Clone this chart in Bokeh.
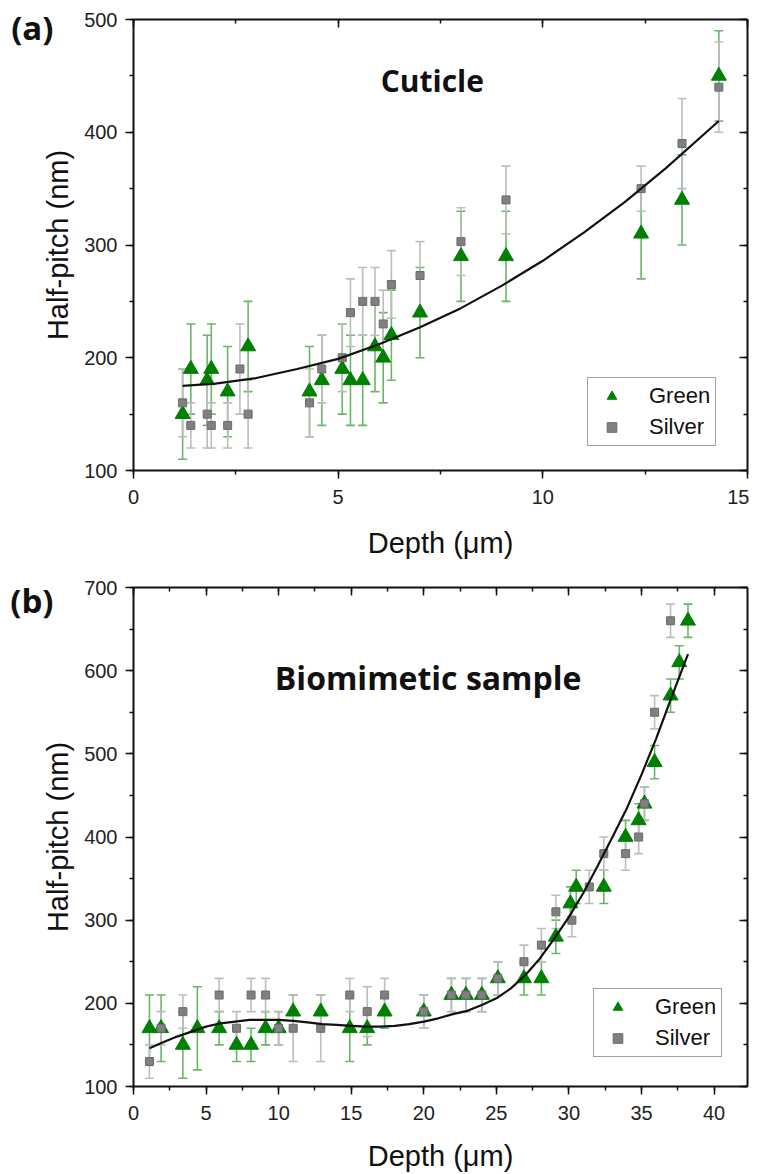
from bokeh.plotting import figure
from bokeh.models import (ColumnDataSource, Whisker, TeeHead, LinearAxis, Label,
                          Legend, LegendItem, Range1d, SingleIntervalTicker, FixedTicker,
                          CustomJSTickFormatter)
from bokeh.layouts import column
from bokeh.embed import file_html
from bokeh.resources import INLINE

# ---------------- Panel (a): Cuticle ----------------
green_a_x = [1.2, 1.4, 1.8, 1.9, 2.3, 2.8, 4.3, 4.6, 5.1, 5.3, 5.6, 5.9, 6.1, 6.3, 7.0, 8.0, 9.1, 12.4, 13.4, 14.3]
green_a_y = [150, 190, 180, 190, 170, 210, 170, 180, 190, 180, 180, 210, 200, 220, 240, 290, 290, 310, 340, 450]
green_a_err = [40, 40, 40, 40, 40, 40, 40, 40, 40, 40, 40, 40, 40, 40, 40, 40, 40, 40, 40, 40]

silver_a_x = [1.2, 1.4, 1.8, 1.9, 2.3, 2.6, 2.8, 4.3, 4.6, 5.1, 5.3, 5.6, 5.9, 6.1, 6.3, 7.0, 8.0, 9.1, 12.4, 13.4, 14.3]
silver_a_y = [160, 140, 150, 140, 140, 190, 150, 160, 190, 200, 240, 250, 250, 230, 265, 273, 303, 340, 350, 390, 440]
silver_a_err = [30, 20, 30, 20, 20, 40, 30, 30, 30, 30, 30, 30, 30, 30, 30, 30, 30, 30, 20, 40, 40]

fit_a_x = [1.2, 2, 3, 4, 5, 6, 7, 8, 9, 10, 11, 12, 13, 14.3]
fit_a_y = [175, 177, 182, 190, 199, 212, 227, 244, 264, 286, 311, 338, 368, 410]

# ---------------- Panel (b): Biomimetic sample ----------------
green_b_x = [1.1, 1.9, 3.4, 4.4, 5.9, 7.1, 8.1, 9.1, 10.0, 11.0, 12.9, 14.9, 16.1, 17.3, 20.0,
             21.9, 22.9, 24.0, 25.1, 26.9, 28.1, 29.1, 30.1, 30.5, 32.4, 33.9, 34.8, 35.2, 35.9,
             37.0, 37.6, 38.2]
green_b_y = [170, 170, 150, 170, 170, 150, 150, 170, 170, 190, 190, 170, 170, 190, 190,
             210, 210, 210, 230, 230, 230, 280, 320, 340, 340, 400, 420, 440, 490,
             570, 610, 660]
green_b_err = [40, 40, 40, 50, 20, 20, 20, 20, 20, 20, 20, 40, 20, 20, 20,
               20, 20, 20, 20, 20, 20, 20, 20, 20, 20, 20, 20, 20, 20,
               20, 20, 20]

silver_b_x = [1.1, 1.9, 3.4, 5.9, 7.1, 8.1, 9.1, 10.0, 11.0, 12.9, 14.9, 16.1, 17.3, 20.0,
              21.9, 22.9, 24.0, 25.1, 26.9, 28.1, 29.1, 30.2, 31.4, 32.4, 33.9, 34.8, 35.2,
              35.9, 37.0]
silver_b_y = [130, 170, 190, 210, 170, 210, 210, 170, 170, 170, 210, 190, 210, 190,
              210, 210, 210, 230, 250, 270, 310, 300, 340, 380, 380, 400, 440,
              550, 660]
silver_b_err = [20, 20, 20, 20, 20, 20, 20, 20, 40, 40, 20, 30, 20, 20,
                20, 20, 20, 20, 20, 20, 20, 20, 20, 20, 20, 20, 20,
                20, 20]

fit_b_x = [1.1, 2, 3, 4, 5, 6, 7, 8, 9, 10, 11, 12, 13, 14, 15, 16, 17, 18, 19, 20,
           21, 22, 23, 24, 25, 26, 27, 28, 29, 30, 31, 32, 33, 34, 35, 36, 37, 38.2]
fit_b_y = [146, 153, 160, 166, 172, 176, 178, 180, 180, 180, 179, 177, 175, 174, 173, 172, 172, 173, 175, 178,
           182, 187, 191, 198, 206, 218, 234, 254, 278, 304, 333, 366, 400, 435, 475, 518, 565, 620]

GREEN = "#008000"
GREEN_BAR = "#6bb56b"
SILVER = "#808080"
SILVER_EDGE = "#6a6a6a"
SILVER_BAR = "#bdbdbd"
TICK_FONT = "Liberation Sans"


def style_axis(ax, label):
    ax.axis_label = label
    ax.axis_line_width = 2
    ax.axis_line_color = "#111111"
    ax.major_tick_line_width = 1.5
    ax.minor_tick_line_width = 1.5
    ax.major_tick_line_color = "#111111"
    ax.minor_tick_line_color = "#111111"
    ax.major_tick_out = 8
    ax.major_tick_in = 0
    ax.minor_tick_out = 4
    ax.minor_tick_in = 0
    ax.major_label_text_font = TICK_FONT
    ax.major_label_text_font_size = "20px"
    ax.major_label_text_color = "#222222"
    ax.axis_label_text_font = TICK_FONT
    ax.axis_label_text_font_size = "29px"
    ax.axis_label_text_font_style = "normal"
    ax.axis_label_text_color = "#111111"


def mirror_axis(ticker):
    ax = LinearAxis(ticker=ticker)
    ax.axis_line_width = 2
    ax.axis_line_color = "#111111"
    ax.major_tick_line_width = 1.5
    ax.minor_tick_line_width = 1.5
    ax.major_tick_line_color = "#111111"
    ax.minor_tick_line_color = "#111111"
    ax.major_tick_in = 8
    ax.major_tick_out = 0
    ax.minor_tick_in = 4
    ax.minor_tick_out = 0
    ax.major_label_text_font_size = "1px"
    ax.major_label_text_color = None
    ax.major_label_standoff = 0
    return ax


def tag_axis(tag, at):
    # panel letter drawn as the single tick label of an outer left axis
    ax = LinearAxis(ticker=FixedTicker(ticks=[at], minor_ticks=[]),
                    formatter=CustomJSTickFormatter(code="return '%s'" % tag))
    ax.axis_line_color = None
    ax.major_tick_line_color = None
    ax.minor_tick_line_color = None
    ax.major_tick_out = 0
    ax.major_tick_in = 0
    try:
        ax.major_label_standoff = -14
    except Exception:
        ax.major_label_standoff = 0
    ax.major_label_text_font = "Open Sans"
    ax.major_label_text_font_style = "bold"
    ax.major_label_text_font_size = "33px"
    ax.major_label_text_color = "#111111"
    return ax


def make_panel(xr, yr, height, top, bottom, xstep, ystep,
               gx, gy, ge, sx, sy, se, fx, fy,
               panel_tag, tag_at, title, title_xy, title_size, legend_xy, x_label_standoff):
    p = figure(width=749, height=height, x_range=Range1d(*xr), y_range=Range1d(*yr),
               output_backend="svg", toolbar_location=None,
               min_border_left=133, min_border_right=2,
               min_border_top=top, min_border_bottom=bottom)
    p.xgrid.visible = False
    p.ygrid.visible = False
    p.outline_line_color = None
    p.background_fill_color = "white"

    p.xaxis.ticker = SingleIntervalTicker(interval=xstep, num_minor_ticks=2)
    p.yaxis.ticker = SingleIntervalTicker(interval=ystep, num_minor_ticks=2)
    style_axis(p.xaxis[0], "Depth (\u03bcm)")
    style_axis(p.yaxis[0], "Half-pitch (nm)")
    p.xaxis[0].major_label_standoff = 11
    p.yaxis[0].major_label_standoff = 8
    p.xaxis[0].axis_label_standoff = x_label_standoff
    p.yaxis[0].axis_label_standoff = 7
    p.add_layout(mirror_axis(SingleIntervalTicker(interval=xstep, num_minor_ticks=2)), "above")
    p.add_layout(mirror_axis(SingleIntervalTicker(interval=ystep, num_minor_ticks=2)), "right")
    p.add_layout(tag_axis(panel_tag, tag_at), "left")

    gsrc = ColumnDataSource(dict(x=gx, y=gy,
                                 lo=[v - e for v, e in zip(gy, ge)],
                                 hi=[v + e for v, e in zip(gy, ge)]))
    ssrc = ColumnDataSource(dict(x=sx, y=sy,
                                 lo=[v - e for v, e in zip(sy, se)],
                                 hi=[v + e for v, e in zip(sy, se)]))

    for src, col in ((gsrc, GREEN_BAR), (ssrc, SILVER_BAR)):
        w = Whisker(source=src, base="x", lower="lo", upper="hi", dimension="height",
                    line_color=col, line_width=1.6, level="underlay",
                    upper_head=TeeHead(size=9, line_color=col, line_width=1.6),
                    lower_head=TeeHead(size=9, line_color=col, line_width=1.6))
        p.add_layout(w)

    g = p.scatter("x", "y", source=gsrc, marker="triangle", size=15,
                  fill_color=GREEN, line_color=GREEN)
    s = p.scatter("x", "y", source=ssrc, marker="square", size=8,
                  fill_color=SILVER, line_color=SILVER_EDGE)
    p.line(fx, fy, line_color="#111111", line_width=2.2)

    p.add_layout(Label(x=title_xy[0], y=title_xy[1], text=title, text_font="Open Sans",
                       text_font_style="bold", text_font_size=title_size, text_align="center",
                       text_baseline="middle", text_color="#111111"))

    leg = Legend(items=[LegendItem(label="Green", renderers=[g]),
                        LegendItem(label="Silver", renderers=[s])],
                 location=legend_xy)
    leg.label_text_font = TICK_FONT
    leg.label_text_font_size = "22px"
    leg.label_text_color = "#111111"
    leg.glyph_width = 37
    leg.glyph_height = 24
    leg.label_height = 24
    leg.label_standoff = 19
    leg.padding = 5
    leg.spacing = 5
    leg.margin = 0
    leg.border_line_color = "#444444"
    leg.border_line_width = 1
    leg.background_fill_alpha = 1
    p.add_layout(leg)
    return p


HA = 561
HB = 613
pa = make_panel((0, 15), (100, 500), HA, 19, 90, 5, 100,
                green_a_x, green_a_y, green_a_err, silver_a_x, silver_a_y, silver_a_err,
                fit_a_x, fit_a_y,
                "(a)", 493, "Cuticle", (7.3, 446), "30px", (454, 24), 20)

pb = make_panel((0, 42.3), (100, 700), HB, 26, 88, 5, 100,
                green_b_x, green_b_y, green_b_err, silver_b_x, silver_b_y, silver_b_err,
                fit_b_x, fit_b_y,
                "(b)", 684, "Biomimetic sample", (20.3, 592), "32px", (460, 29), 17)

layout = column(pa, pb, spacing=0)
open("out.html", "w").write(file_html(layout, INLINE))
